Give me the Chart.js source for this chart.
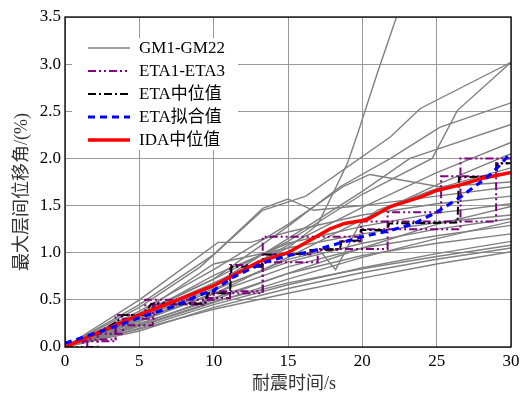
<!DOCTYPE html>
<html>
<head>
<meta charset="utf-8">
<script src="https://cdn.jsdelivr.net/npm/chart.js@4.4.0/dist/chart.umd.min.js"></script>
<style>
  html,body{margin:0;padding:0;background:#fff}
  #wrap{width:526px;height:394px}
</style>
</head>
<body>
<div id="wrap"><canvas id="chart" width="526" height="394"></canvas></div>
<script>
// 耐震时间 vs 最大层间位移角: 22条地震波 + ETA 结果
const seriesNames = ['GM1-GM22', 'ETA1-ETA3', 'ETA中位值', 'ETA拟合值', 'IDA中位值'];
const xTickValues = [0, 5, 10, 15, 20, 25, 30];
const yTickValues = [0, 0.5, 1.0, 1.5, 2.0, 2.5, 3.0, 3.5];
const xTitle = '耐震时间/s';
const yTitle = '最大层间位移角/(%)';

// GM 曲线 [t, drift]
const gm01 = [[0,0],[5,0.33],[10,0.68],[15,1.05],[17,1.3],[18,1.62],[19,1.95],[19.7,2.27],[21,2.9],[22.3,3.5],[23.2,4.0]];
const gm02 = [[0,0],[5,0.42],[9.1,0.85],[13.3,1.45],[16.2,1.6],[21.9,2.23],[23.9,2.53],[30,3.02]];
const gm03 = [[0,0],[5,0.36],[10,0.72],[15,1.12],[20,1.62],[24.7,2.0],[26.4,2.51],[30,3.02]];
const gm04 = [[0,0],[5,0.34],[10,0.72],[15,1.28],[18.5,1.7],[21.9,2.0],[25.2,2.33],[30,2.59]];
const gm05 = [[0,0],[5,0.3],[10,0.66],[15,1.15],[20,1.65],[23.2,2.0],[30,2.36]];
const gm06 = [[0,0],[5,0.31],[10,0.64],[15,1.08],[20,1.48],[25,1.85],[30,2.17]];
const gm07 = [[0,0],[5,0.27],[10,0.56],[15,0.95],[20,1.35],[25,1.72],[30,2.05]];
const gm08 = [[0,0],[5,0.38],[10,0.82],[15,1.3],[18.7,1.7],[20.5,1.83],[25.2,1.7],[30,1.75]];
const gm09 = [[0,0],[5,0.45],[10,0.98],[13.3,1.47],[15,1.57],[16.7,1.45],[20,1.5],[25,1.6],[30,1.7]];
const gm10 = [[0,0],[5,0.5],[10.3,1.11],[12.5,1.11],[15,1.22],[20,1.4],[25,1.52],[30,1.6]];
const gm11 = [[0,0],[5,0.28],[10,0.6],[15,0.93],[17.2,1.01],[18.2,0.82],[19.8,1.3],[21,1.45],[25,1.68],[30,1.9]];
const gm12 = [[0,0],[5,0.33],[10,0.76],[15,1.1],[20,1.28],[25,1.42],[30,1.52]];
const gm13 = [[0,0],[5,0.25],[10,0.5],[15,0.78],[20,1.05],[25,1.3],[30,1.49]];
const gm14 = [[0,0],[5,0.3],[10,0.62],[15,0.9],[20,1.1],[25,1.25],[30,1.36]];
const gm15 = [[0,0],[5,0.22],[10,0.47],[15,0.72],[20,0.95],[25,1.15],[30,1.33]];
const gm16 = [[0,0],[5,0.28],[10,0.57],[15,0.85],[20,1.05],[25,1.18],[30,1.29]];
const gm17 = [[0,0],[5,0.35],[10,0.88],[15,1.05],[20,1.2],[25,1.32],[30,1.4]];
const gm18 = [[0,0],[5,0.2],[10,0.45],[15,0.66],[20,0.84],[25,0.99],[30,1.12]];
const gm19 = [[0,0],[5,0.23],[10,0.48],[15,0.68],[20,0.83],[25,0.96],[30,1.08]];
const gm20 = [[0,0],[5,0.19],[10,0.4],[15,0.57],[20,0.73],[25,0.88],[30,1.01]];
const gm21 = [[0,0],[5,0.17],[10,0.42],[15,0.62],[20,0.79],[25,0.93],[30,1.05]];
const gm22 = [[0,0],[5,0.24],[10,0.52],[15,0.78],[20,0.97],[25,1.1],[30,1.2]];
const gmAll = [gm01,gm02,gm03,gm04,gm05,gm06,gm07,gm08,gm09,gm10,gm11,gm12,gm13,gm14,gm15,gm16,gm17,gm18,gm19,gm20,gm21,gm22];

// ETA 阶梯 (跳变点: 从该时刻起的值)
const eta1 = [[0,0],[1.5,0.08],[3.4,0.34],[5.4,0.5],[10,0.59],[13.3,1.17],[20,1.25],[26.6,2.0],[30,2.0]];
const eta2 = [[0,0],[1.2,0.06],[3.4,0.23],[5.9,0.45],[9.3,0.52],[11.1,0.87],[13.3,0.9],[17,1.04],[21.7,1.43],[25.3,1.81],[29,1.95],[30,1.95]];
const eta3 = [[0,0],[2.2,0.14],[3.9,0.3],[6,0.47],[9.6,0.57],[13.3,0.98],[16.5,1.03],[18.5,1.12],[19.9,1.33],[29,1.95],[30,1.95]];

const etaMedian = [[0,0],[1,0.07],[2.3,0.16],[3.5,0.27],[3.9,0.34],[5.3,0.34],[5.8,0.46],[9.4,0.46],[9.6,0.57],[11.1,0.57],[11.2,0.85],[13.2,0.85],[13.4,0.98],[16.4,0.99],[16.6,1.03],[18.5,1.04],[18.6,1.12],[19.8,1.13],[19.9,1.24],[21.7,1.24],[21.8,1.31],[26.4,1.32],[26.5,1.8],[29,1.81],[29.1,1.95],[30,1.95]];

const etaFit = [[0,0.04],[2.5,0.17],[5,0.31],[7.5,0.44],[9,0.55],[10,0.6],[11.3,0.74],[13.3,0.89],[15,0.97],[16.5,1.01],[18,1.08],[20,1.17],[22,1.24],[23.5,1.31],[25,1.43],[26.5,1.58],[28.4,1.8],[29.2,1.92],[30,2.06]];

const idaMedian = [[0,0],[5,0.34],[10,0.65],[13,0.9],[15,1.0],[17.8,1.25],[18.8,1.31],[20.3,1.35],[21.9,1.49],[23.9,1.59],[25,1.66],[26.6,1.72],[28.1,1.79],[30,1.85]];

const toXY = arr => arr.map(p => ({x: p[0], y: p[1]}));

const serif = "'Liberation Serif', 'Noto Sans CJK SC', serif";
const styles = [
  {color: '#808080', width: 1.4, dash: []},
  {color: '#800080', width: 2, dash: [8,3,2,3,2,3]},
  {color: '#000000', width: 2, dash: [8,3,2,3]},
  {color: '#0000ff', width: 3.2, dash: [7,5]},
  {color: '#ff0000', width: 3.5, dash: []}
];

const datasets = [];
gmAll.forEach(g => {
  datasets.push({data: toXY(g), borderColor: styles[0].color, borderWidth: styles[0].width, order: 5});
});
[eta1, eta2, eta3].forEach(e => {
  datasets.push({data: toXY(e), stepped: 'before', borderColor: styles[1].color,
    borderWidth: styles[1].width, borderDash: styles[1].dash, order: 4});
});
datasets.push({data: toXY(etaMedian), borderColor: styles[2].color, borderWidth: styles[2].width, borderDash: styles[2].dash, order: 3});
datasets.push({data: toXY(idaMedian), borderColor: styles[4].color, borderWidth: styles[4].width, order: 2});
datasets.push({data: toXY(etaFit), borderColor: styles[3].color, borderWidth: styles[3].width, borderDash: styles[3].dash, order: 1});

// 图例, 外框, 坐标轴标题
const framePlugin = {
  id: 'frame',
  afterDatasetsDraw(chart){
    const {ctx, chartArea: a} = chart;
    ctx.save();
    ctx.fillStyle = '#fff';
    ctx.fillRect(72, 38, 166, 112);
    const rows = [48, 71, 94, 117, 140];
    ctx.font = '17px ' + serif;
    ctx.textBaseline = 'middle';
    rows.forEach((y, i) => {
      const s = styles[i];
      ctx.beginPath();
      ctx.strokeStyle = s.color;
      ctx.lineWidth = s.width;
      ctx.setLineDash(s.dash);
      ctx.moveTo(88, y); ctx.lineTo(130, y);
      ctx.stroke();
      ctx.setLineDash([]);
      ctx.fillStyle = '#000';
      ctx.fillText(seriesNames[i], 139, y + 1);
    });
    ctx.strokeStyle = '#000';
    ctx.lineWidth = 1.3;
    ctx.strokeRect(a.left, a.top, a.right - a.left, a.bottom - a.top);

    ctx.fillStyle = '#333';
    ctx.font = '18px ' + serif;
    ctx.textAlign = 'center';
    ctx.fillText(xTitle, 294, 384);
    ctx.translate(22, 192);
    ctx.rotate(-Math.PI / 2);
    ctx.fillText(yTitle, 0, 0);
    ctx.restore();
  }
};

new Chart(document.getElementById('chart').getContext('2d'), {
  type: 'line',
  data: {datasets},
  options: {
    responsive: false,
    animation: false,
    devicePixelRatio: 1,
    layout: {padding: {left: 0, right: 15, top: 17, bottom: 0}},
    elements: {point: {radius: 0}, line: {tension: 0, fill: false}},
    datasets: {line: {clip: 0}},
    plugins: {legend: {display: false}, tooltip: {enabled: false}},
    scales: {
      x: {
        type: 'linear', min: 0, max: 30,
        afterFit: s => { s.height = 47; },
        afterBuildTicks: s => { s.ticks = xTickValues.map(v => ({value: v})); },
        ticks: {color: '#000', font: {family: serif, size: 17}, padding: 4},
        grid: {color: '#999999', lineWidth: 1, drawTicks: false},
        border: {display: false}
      },
      y: {
        type: 'linear', min: 0, max: 3.5,
        afterFit: s => { s.width = 65; },
        afterBuildTicks: s => { s.ticks = yTickValues.map(v => ({value: v})); },
        ticks: {color: '#000', font: {family: serif, size: 17}, padding: 4, callback: v => v.toFixed(1)},
        grid: {color: '#999999', lineWidth: 1, drawTicks: false},
        border: {display: false}
      }
    }
  },
  plugins: [framePlugin]
});
</script>
</body>
</html>
